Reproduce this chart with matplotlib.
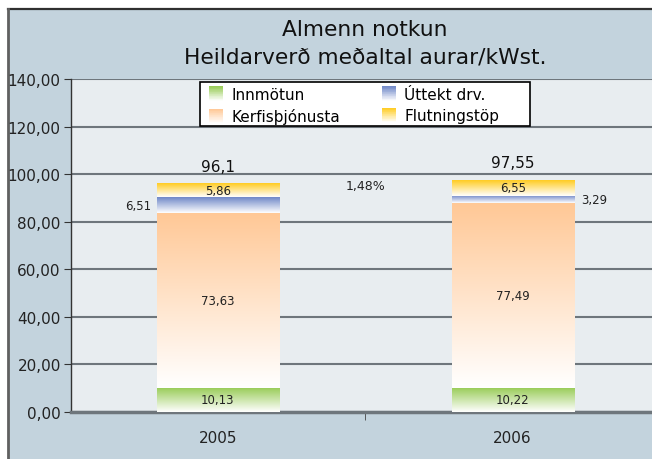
import numpy as np
import matplotlib
matplotlib.use("Agg")
import matplotlib.pyplot as plt
from matplotlib.patches import Rectangle, Patch
from matplotlib.legend_handler import HandlerBase
from matplotlib.colors import to_rgb

# ---- data ----
categories = ["2005", "2006"]
series_names = ["Innmötun", "Kerfisþjónusta", "Úttekt drv.", "Flutningstöp"]
innmotun = [10.13, 10.22]
kerfis = [73.63, 77.49]
uttekt = [6.51, 3.29]
flutning = [5.86, 6.55]
totals = [96.1, 97.55]
total_labels = ["96,1", "97,55"]
change_label = "1,48%"
yticks = [0, 20, 40, 60, 80, 100, 120, 140]
ytick_labels = ["0,00", "20,00", "40,00", "60,00", "80,00", "100,00", "120,00", "140,00"]

series = [innmotun, kerfis, uttekt, flutning]
colors = ["#97cb55", "#ffc896", "#7088c8", "#ffcc22"]

plt.rcParams['font.family'] = ['DejaVu Sans']

fig = plt.figure(figsize=(6.52, 4.6), dpi=100)
fig.patch.set_facecolor("white")
# chart area background with border
bg = Rectangle((8/652, 0), 1.0, 1 - 10/460, transform=fig.transFigure,
               facecolor="#c3d3dd", edgecolor="none", zorder=-5)
fig.add_artist(bg)
fig.add_artist(plt.Line2D([8/652, 1], [1 - 10/460, 1 - 10/460], transform=fig.transFigure,
                          color="#303030", lw=1.6, zorder=-4))
fig.add_artist(plt.Line2D([8/652, 8/652], [0, 1 - 10/460], transform=fig.transFigure,
                          color="#606060", lw=2, zorder=-4))

AX_L, AX_R, AX_T, AX_B = 70.5, 660.0, 80.0, 413.0
ax = fig.add_axes([AX_L/652, 1 - AX_B/460, (AX_R - AX_L)/652, (AX_B - AX_T)/460])
ax.set_zorder(1)
ax.set_facecolor("#e8edf0")

def px2ax(px, py):
    return (px - AX_L) / (AX_R - AX_L), (AX_B - py) / (AX_B - AX_T)

x = np.arange(len(categories))
width = 0.414

def gradient(color, n=128):
    c = np.array(to_rgb(color))
    t = np.linspace(0, 1, n)[:, None]
    img = (1 - t) * np.array([1, 1, 1]) + t * c
    return img[:, None, :]

label_fmt = lambda v: f"{v:.2f}".replace(".", ",")

for i in range(len(categories)):
    bottom = 0
    for s_idx, (vals, col) in enumerate(zip(series, colors)):
        v = vals[i]
        ax.imshow(gradient(col), extent=(x[i] - width/2, x[i] + width/2, bottom, bottom + v),
                  origin="lower", aspect="auto", zorder=3, interpolation="bilinear")
        mid = bottom + v / 2
        if s_idx == 2:
            if i == 0:
                ax.text(x[i] - width/2 - 0.02, mid, label_fmt(v), ha="right", va="center",
                        fontsize=8.5, color="#222222", zorder=5)
            else:
                ax.text(x[i] + width/2 + 0.025, mid, label_fmt(v), ha="left", va="center",
                        fontsize=8.5, color="#222222", zorder=5)
        else:
            ax.text(x[i], mid, label_fmt(v), ha="center", va="center",
                    fontsize=8.5, color="#222222", zorder=5)
        bottom += v
    ax.annotate(total_labels[i], (x[i], totals[i]), xytext=(0, 7), textcoords="offset points",
                ha="center", va="bottom", fontsize=11, color="#111111", zorder=5)

ax.text(0.5, 95.4, change_label, ha="center", va="center", fontsize=9, color="#222222", zorder=5)

ax.set_xlim(-0.5, 1.5)
ax.set_ylim(0, 140)
ax.set_yticks(yticks)
ax.set_yticklabels(ytick_labels, fontsize=11, color="#222222")
ax.set_xticks(x)
ax.set_xticklabels(categories, fontsize=11, color="#222222")
ax.tick_params(axis="x", length=0, pad=13)
ax.set_xticks([0.5], minor=True)
ax.tick_params(axis="x", which="minor", length=6, direction="out", color="#444444")
ax.tick_params(axis="y", length=5, direction="out", color="#333333", pad=2)
ax.yaxis.grid(True, color="#6e767c", lw=1.5, zorder=1)
ax.set_axisbelow(True)
for side in ["top", "right"]:
    ax.spines[side].set_visible(False)
ax.spines["left"].set_color("#333333")
ax.spines["left"].set_linewidth(1)
ax.spines["bottom"].set_color("#6e767c")
ax.spines["bottom"].set_linewidth(2.5)

fig.text(365/652, 1 - 30/460, "Almenn notkun", ha="center", va="center", fontsize=15.7, color="#111111")
fig.text(365/652, 1 - 58/460, "Heildarverð meðaltal aurar/kWst.", ha="center", va="center",
         fontsize=15.7, color="#111111")


class GradientHandler(HandlerBase):
    def create_artists(self, legend, orig_handle, xdescent, ydescent, width, height, fontsize, trans):
        col = np.array(to_rgb(orig_handle.get_facecolor()))
        n = 20
        arts = []
        h = width
        y0 = -ydescent + height / 2 - h / 2
        for k in range(n):
            t = (k + 0.5) / n
            c = (1 - t) * np.ones(3) + t * col
            r = Rectangle((-xdescent, y0 + h * k / n), width, h / n + 0.3, facecolor=c,
                          edgecolor="none", transform=trans)
            arts.append(r)
        return arts


# legend frame (Excel-style, asymmetric padding)
fx0, fy0 = px2ax(200, 127)
fx1, fy1 = px2ax(530, 83)
frame = Rectangle((fx0, fy0), fx1 - fx0, fy1 - fy0, transform=ax.transAxes,
                  facecolor="white", edgecolor="black", lw=1.2, zorder=9)
ax.add_patch(frame)

handles = [Patch(facecolor=c, label=n) for c, n in zip(colors, series_names)]
lx, ly = px2ax(209, 88)
leg = ax.legend(handles=handles, loc="upper left", bbox_to_anchor=(lx, ly), ncol=2,
                handler_map={Patch: GradientHandler()}, fontsize=11, frameon=False,
                columnspacing=2.75, handlelength=0.91, handletextpad=0.55, borderpad=0.0,
                labelspacing=0.42, borderaxespad=0.0)
leg.set_zorder(10)

fig.savefig("out.png", dpi=100)
